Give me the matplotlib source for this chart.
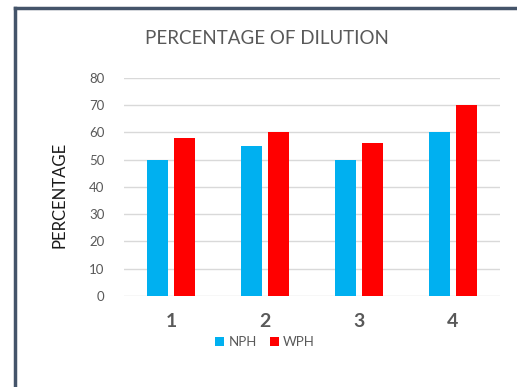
import matplotlib
matplotlib.use("Agg")
import matplotlib.pyplot as plt
from matplotlib.lines import Line2D
import numpy as np

plt.rcParams['font.family'] = ['Lato', 'DejaVu Sans']

categories = ['1', '2', '3', '4']
nph = [50, 55, 50, 60]
wph = [58, 60, 56, 70]
yticks = [0, 10, 20, 30, 40, 50, 60, 70, 80]

W, H = 517, 387
fig = plt.figure(figsize=(W/100, H/100), dpi=100)
ax = fig.add_axes([124/W, 1-296/H, 376/W, 218/H])

x = np.arange(1, len(categories)+1)
ax.bar(x - 0.14, nph, width=0.225, color='#00B0F0', label='NPH', zorder=3)
ax.bar(x + 0.145, wph, width=0.225, color='#FF0000', label='WPH', zorder=3)

ax.set_xlim(0.5, 4.5)
ax.set_ylim(0, 80)
ax.set_yticks(yticks)
ax.set_xticks(x)
ax.set_xticklabels(categories, fontsize=14, fontweight='bold', color='#595959')
for s in ax.spines.values():
    s.set_visible(False)
ax.grid(axis='y', color='#D9D9D9', linewidth=1, zorder=0)
ax.tick_params(axis='both', length=0)
ax.tick_params(axis='y', labelsize=9.5, labelcolor='#595959', pad=14)
ax.tick_params(axis='x', pad=12)

ax.set_ylabel('PERCENTAGE', fontsize=12, color='#1a1a1a', va='center')
ax.yaxis.set_label_coords((60-124)/376, (296-195)/218)
fig.text(267/W, 1-38/H, 'PERCENTAGE OF DILUTION', ha='center', va='center',
         fontsize=13.5, color='#595959')

leg = ax.legend(loc='center', bbox_to_anchor=(265/W, 1-342/H), bbox_transform=fig.transFigure,
                ncol=2, frameon=False, fontsize=9.5, handlelength=0.7, handleheight=0.7,
                handletextpad=0.3, columnspacing=1.0, labelcolor='#595959')

# frame border
fig.add_artist(Line2D([15/W, 15/W], [0, 1-8/H], transform=fig.transFigure,
                      color='#44546A', linewidth=2.5))
fig.add_artist(Line2D([15/W, 1.0], [1-8/H, 1-8/H], transform=fig.transFigure,
                      color='#44546A', linewidth=2.5))

fig.savefig('out.png', dpi=100)
